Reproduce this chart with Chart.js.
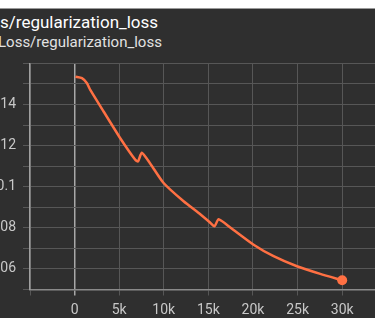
<!DOCTYPE html>
<html>
<head>
<meta charset="utf-8">
<script src="https://cdn.jsdelivr.net/npm/chart.js@4"></script>
<style>
  html, body { margin: 0; padding: 0; background: #fff; width: 375px; height: 332px; overflow: hidden; }
  #panel { position: absolute; left: 0; top: 8px; width: 375px; height: 310px; background: #2f2f2f; border-top: 1px solid #9a9a9a; box-sizing: border-box; overflow: hidden; }
  .t1 { position: absolute; left: 0; top: 3px; font: 17px Roboto, sans-serif; color: #fff; white-space: nowrap; line-height: 20px; }
  .t2 { position: absolute; left: -2px; top: 24px; font: 15px Roboto, sans-serif; color: #e2e2e2; white-space: nowrap; line-height: 18px; }
  #wrap { position: absolute; left: -30px; top: -9px; width: 410px; height: 332px; }
</style>
</head>
<body>
<div id="panel">
  <div class="t1">s/regularization_loss</div>
  <div class="t2">Loss/regularization_loss</div>
  <div id="wrap"><canvas id="chart"></canvas></div>
</div>
<script>
// pas d'entraînement et perte
const steps = [100, 830, 1390, 1760, 3250, 5120, 6800, 7110, 7530, 8490, 9980, 12220, 14090, 15210, 15690, 16140, 17450, 20070, 22310, 24930, 27540, 30000];
const lossValues = [0.1535, 0.1528, 0.1503, 0.1471, 0.1366, 0.1236, 0.1131, 0.1123, 0.1165, 0.1112, 0.1018, 0.0929, 0.0866, 0.0825, 0.0807, 0.0842, 0.0802, 0.0718, 0.0662, 0.0613, 0.0576, 0.0545];

const xTickValues = [-5000, 0, 5000, 10000, 15000, 20000, 25000, 30000];
const xTickLabels = ['', '0', '5k', '10k', '15k', '20k', '25k', '30k'];
const yTickValues = [0.05, 0.06, 0.07, 0.08, 0.09, 0.10, 0.11, 0.12, 0.13, 0.14, 0.15, 0.16];
const yTickLabels = ['', '0.06', '', '0.08', '', '0.1', '', '0.12', '', '0.14', '', ''];

const tickFont = { family: 'Roboto', size: 14 };

const ctx = document.getElementById('chart').getContext('2d');
new Chart(ctx, {
  type: 'line',
  data: {
    datasets: [{
      data: steps.map((s, i) => ({ x: s, y: lossValues[i] })),
      borderColor: '#ff7043',
      backgroundColor: '#ff7043',
      borderWidth: 2.5,
      tension: 0.2,
      pointRadius: c => c.dataIndex === steps.length - 1 ? 5 : 0,
      pointBorderWidth: 0,
      fill: false
    }]
  },
  options: {
    responsive: true,
    maintainAspectRatio: false,
    animation: false,
    layout: { padding: { top: 63.4, left: 0, right: 0, bottom: 0 } },
    plugins: { legend: { display: false }, tooltip: { enabled: false } },
    scales: {
      x: {
        type: 'linear',
        min: -5000,
        max: 33680,
        afterBuildTicks: s => { s.ticks = xTickValues.map(v => ({ value: v })); },
        afterFit: s => { s.height = 42.5; },
        ticks: {
          color: '#c8c8c8',
          font: tickFont,
          padding: 7,
          maxRotation: 0,
          callback: v => xTickLabels[xTickValues.indexOf(v)]
        },
        grid: {
          color: c => c.tick && c.tick.value === 0 ? '#a8a8a8' : '#575757',
          lineWidth: c => c.tick && c.tick.value === 0 ? 1.5 : 1,
          tickLength: 6
        },
        border: { color: '#8a8a8a', width: 1.5 }
      },
      y: {
        min: 0.05,
        max: 0.16,
        afterBuildTicks: s => { s.ticks = yTickValues.map(v => ({ value: v })); },
        afterFit: s => { s.width = 60; },
        ticks: {
          color: '#c8c8c8',
          font: tickFont,
          padding: 7,
          callback: (v, i) => yTickLabels[i]
        },
        grid: { color: '#575757', lineWidth: 1, tickLength: 7 },
        border: { color: '#a0a0a0', width: 1.5 }
      }
    }
  }
});
</script>
</body>
</html>
